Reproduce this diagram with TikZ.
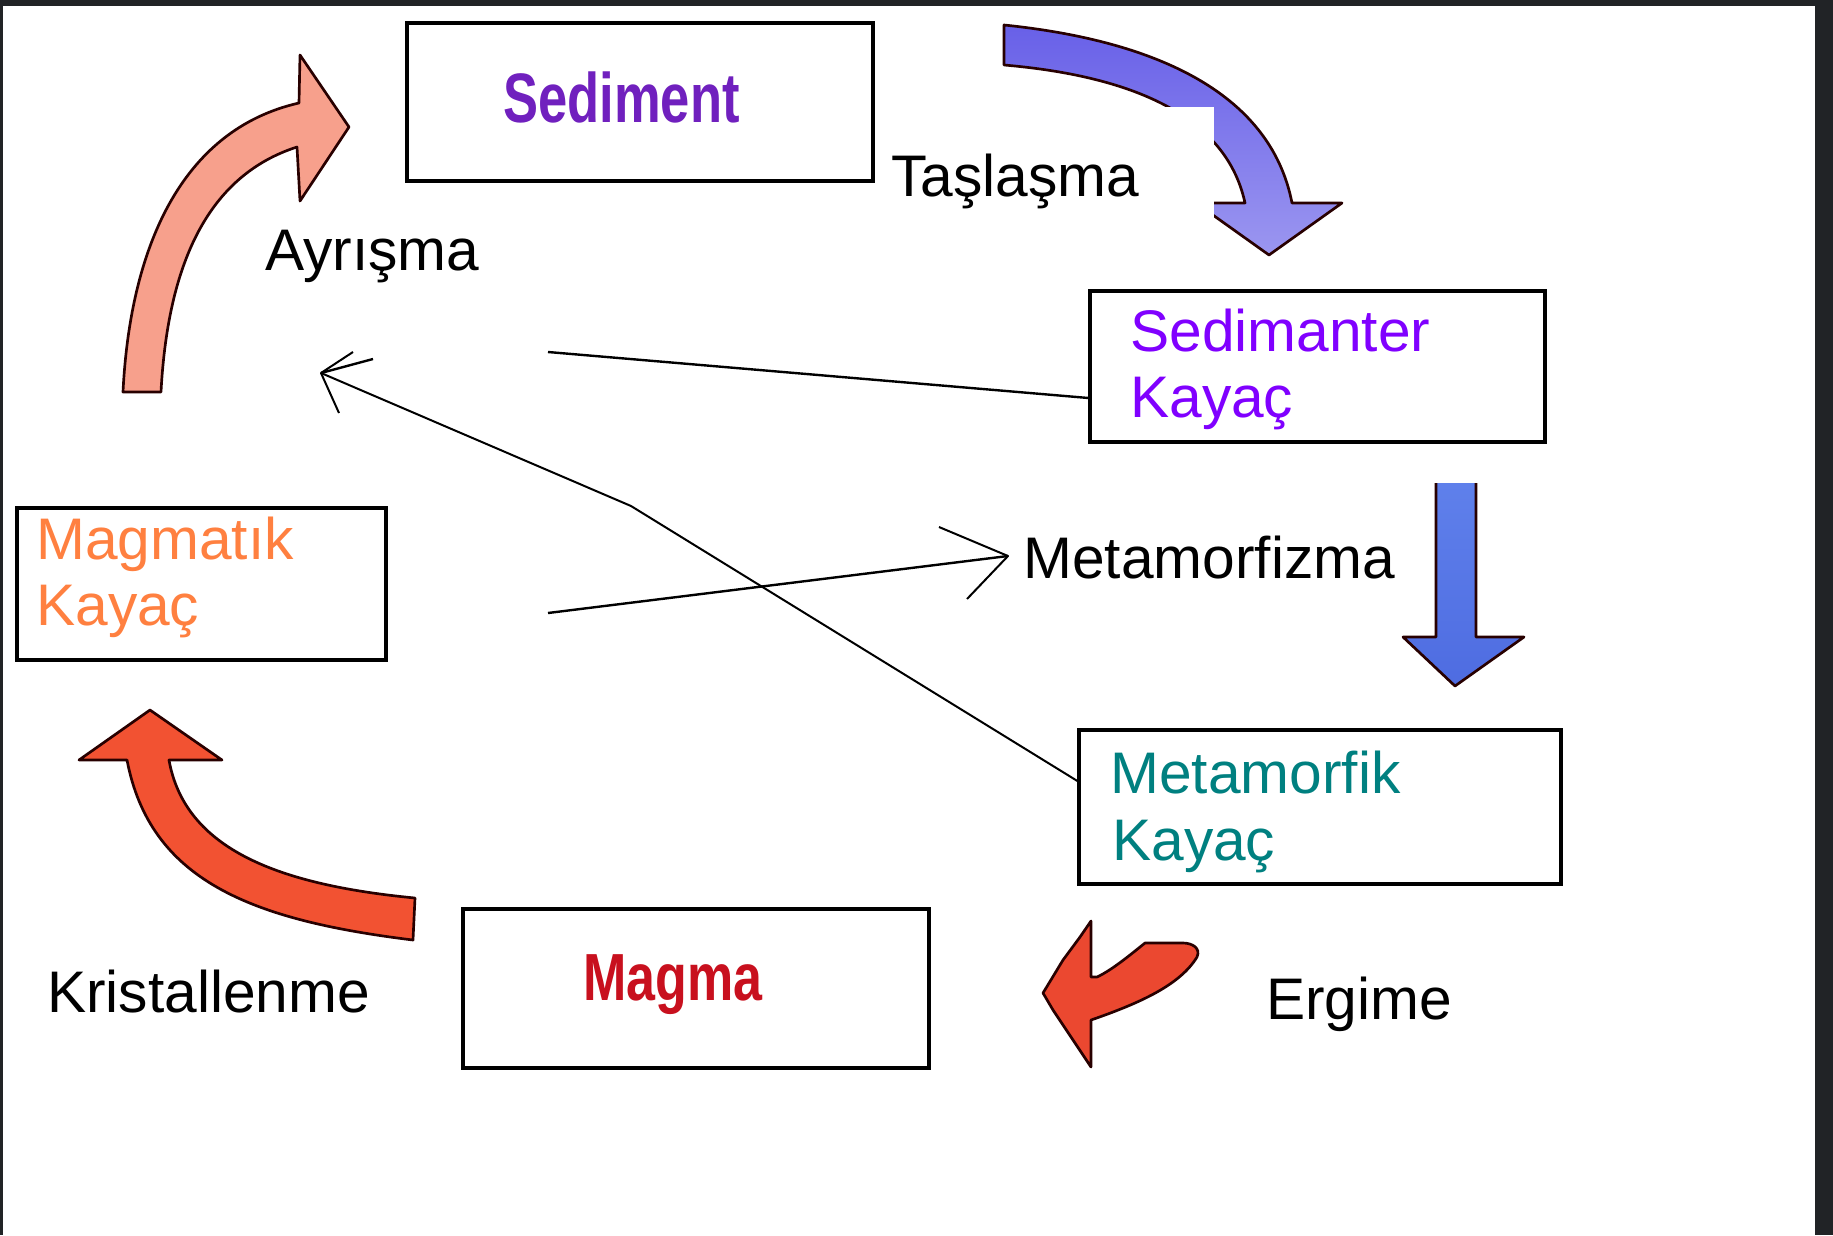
\documentclass[tikz,border=0pt]{standalone}
\usepackage{fontspec}
\setmainfont{Liberation Sans}
\usepackage{graphicx}
\usetikzlibrary{fit}
\definecolor{framec}{RGB}{33,35,38}
\definecolor{sedc}{RGB}{112,32,190}
\definecolor{sedkc}{RGB}{128,0,255}
\definecolor{magkc}{RGB}{255,128,64}
\definecolor{metkc}{RGB}{0,128,128}
\definecolor{magmac}{RGB}{200,16,30}
\definecolor{salmonc}{RGB}{247,160,140}
\definecolor{violtop}{RGB}{104,96,232}
\definecolor{violbot}{RGB}{155,150,240}
\definecolor{bluetop}{RGB}{95,128,235}
\definecolor{bluebot}{RGB}{78,108,225}
\definecolor{kristc}{RGB}{242,82,50}
\definecolor{ergc}{RGB}{235,72,48}
\definecolor{outc}{RGB}{40,0,0}
\begin{document}
\begin{tikzpicture}[x=0.75pt,y=-0.75pt,
  box/.style={draw=black, line width=2.4pt, inner sep=0pt, rectangle},
  txt/.style={anchor=base west, inner sep=0pt, font=\fontsize{44}{52}\selectfont},
  conn/.style={draw=black, line width=1.8pt},
  connthin/.style={draw=black, line width=1.5pt, line join=round},
  blockarrow/.style={draw=outc, line width=2pt, line join=round}]
\useasboundingbox (0,0) rectangle (1833,1235);
\fill[white] (0,0) rectangle (1833,1235);
% frame
\fill[framec] (0,0) rectangle (1833,6);
\fill[framec] (0,0) rectangle (3,1235);
\fill[framec] (1815,0) rectangle (1833,1235);

% Ayrisma arrow (salmon)
\path[blockarrow, fill=salmonc] (123,392)
  .. controls (130,250) and (180,130) .. (299,103)
  -- (300,55) -- (349,127) -- (300,201) -- (297,147)
  .. controls (210,175) and (168,260) .. (161,392)
  -- cycle;

% Taslasma arrow (violet-blue)
\path[blockarrow, top color=violtop, bottom color=violbot] (1004,25)
  .. controls (1150,40) and (1270,90) .. (1292,203)
  -- (1342,203) -- (1269,255) -- (1196,203) -- (1245,203)
  .. controls (1225,110) and (1120,75) .. (1004,65)
  -- cycle;
% white label background cutting the arrow
\fill[white] (880,107) rectangle (1214,275);

% Metamorfizma arrow (blue, vertical)
\fill[top color=bluetop, bottom color=bluebot] (1436,483) -- (1436,637) -- (1403,637) -- (1455,686) -- (1524,637) -- (1476,637) -- (1476,483) -- cycle;
\draw[blockarrow] (1436,483) -- (1436,637) -- (1403,637) -- (1455,686) -- (1524,637) -- (1476,637) -- (1476,483);

% Kristallenme arrow
\path[blockarrow, fill=kristc] (150,710) -- (222,760) -- (169,760)
  .. controls (185,850) and (280,885) .. (415,898)
  -- (413,940)
  .. controls (250,920) and (150,880) .. (127,760)
  -- (79,760) -- cycle;

% Ergime arrow
\path[blockarrow, fill=ergc] (1091,921) -- (1080,937) -- (1063,960) -- (1043,993) -- (1053,1010) -- (1073,1040) -- (1091,1067) -- (1091,1020)
  .. controls (1140,1003) and (1180,985) .. (1197,957)
  .. controls (1201,948) and (1192,943) .. (1183,943)
  -- (1145,943)
  .. controls (1130,955) and (1112,970) .. (1097,977)
  -- (1091,977) -- cycle;

% boxes
\node[box, fit={(407,23) (873,181)}] (sed) {};
\node[box, fit={(1090,291) (1545,442)}] (sedk) {};
\node[box, fit={(17,508) (386,660)}] (magk) {};
\node[box, fit={(1079,730) (1561,884)}] (metk) {};
\node[box, fit={(463,909) (929,1068)}] (magma) {};

% box texts
\node[anchor=base west, inner sep=0pt, text=sedc, font=\fontsize{52.5}{60}\selectfont\bfseries] (sedt) at (503,122) {\scalebox{0.75}[1]{Sediment}};
\node[anchor=base west, inner sep=0pt, text=magmac, font=\fontsize{50}{58}\selectfont\bfseries] (magmat) at (583,1000) {\scalebox{0.78}[1]{Magma}};
\node[txt, text=sedkc] (sedk1) at (1130,351) {Sedimanter};
\node[txt, text=sedkc] (sedk2) at (1130,417) {Kayaç};
\node[txt, text=magkc] (magk1) at (36,559) {Magmatık};
\node[txt, text=magkc] (magk2) at (36,625) {Kayaç};
\node[txt, text=metkc] (metk1) at (1110,793) {Metamorfik};
\node[txt, text=metkc] (metk2) at (1112,860) {Kayaç};

% labels
\node[txt] (ayr) at (265,270) {Ayrışma};
\node[txt] (tas) at (891,196) {Taşlaşma};
\node[txt] (mfz) at (1023,578) {Metamorfizma};
\node[txt] (kri) at (47,1012) {Kristallenme};
\node[txt] (erg) at (1266,1019) {Ergime};

% connectors
\coordinate (sedA) at (sedk.west |- 0,398);
\coordinate (bend1) at (548,352);
\coordinate (bend2) at (373,359);
\coordinate (tipA) at (321,373);
\coordinate (barbA1) at (353,352);
\coordinate (barbA2) at (339,413);
\coordinate (metA) at (metk.west |- 0,781);
\coordinate (metBend) at (631,506);
\coordinate (mzStart) at (548,613);
\coordinate (mzTip) at (1008,556);
\coordinate (barbB1) at (939,527);
\coordinate (barbB2) at (967,599);

\draw[conn] (sedA) -- (bend1);
\draw[conn] (bend2) -- (tipA);
\draw[connthin] (barbA1) -- (tipA) -- (barbA2);
\draw[connthin] (metA) -- (metBend) -- (tipA);
\draw[conn] (mzStart) -- (mzTip);
\draw[connthin] (barbB1) -- (mzTip) -- (barbB2);
\end{tikzpicture}
\end{document}
